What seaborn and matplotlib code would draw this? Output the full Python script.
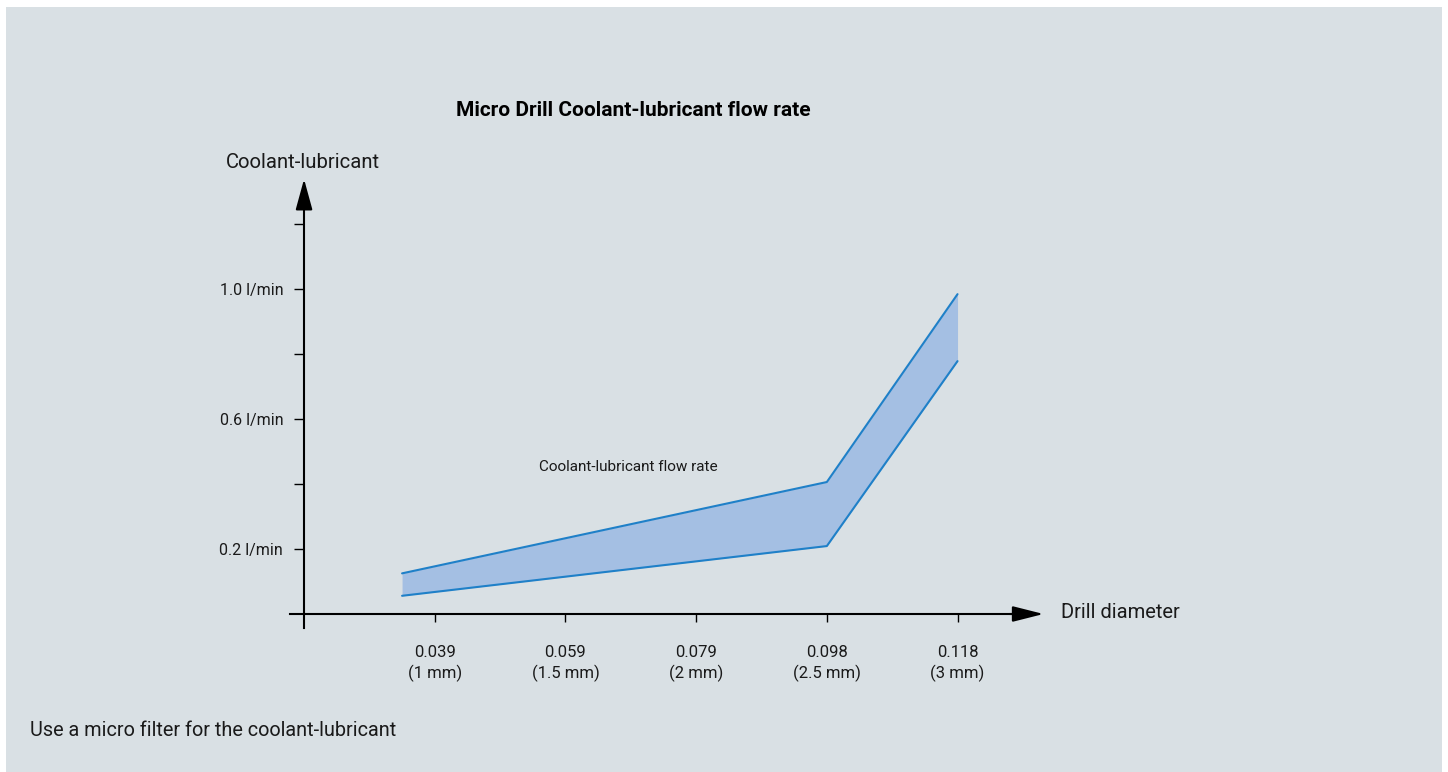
import matplotlib
matplotlib.use("Agg")
import matplotlib.pyplot as plt
import seaborn as sns
import pandas as pd

# ---- data ----
diam_mm = [0.875, 2.5, 3.0]
flow_upper = [0.125, 0.406, 0.984]
flow_lower = [0.056, 0.209, 0.778]
xtick_pos = [1.0, 1.5, 2.0, 2.5, 3.0]
xtick_labels = ["0.039\n(1 mm)", "0.059\n(1.5 mm)", "0.079\n(2 mm)", "0.098\n(2.5 mm)", "0.118\n(3 mm)"]
ytick_pos = [0.2, 0.4, 0.6, 0.8, 1.0, 1.2]
ytick_labels = ["0.2 l/min", "", "0.6 l/min", "", "1.0 l/min", ""]

sns.set_style("white")
plt.rcParams['font.family'] = ['Liberation Sans Narrow', 'Roboto', 'DejaVu Sans']

BG = "#d9e0e4"
LINE = "#1f80c8"
FILL = "#a4bfe3"

fig = plt.figure(figsize=(14.48, 7.72), dpi=100)
fig.patch.set_facecolor("white")
# grey panel
fig.patches.append(matplotlib.patches.Rectangle((6/1448, 0), 1436/1448, 765/772,
                   transform=fig.transFigure, facecolor=BG, edgecolor="none", zorder=-10))

ax = fig.add_axes([280/1448, 132/772, 780/1448, 470/772])
ax.set_zorder(5)
ax.set_facecolor("none")
ax.set_xlim(0.408, 3.392)
ax.set_ylim(-0.08, 1.366)

df = pd.DataFrame({"d": diam_mm + diam_mm,
                   "flow": flow_upper + flow_lower,
                   "bound": ["upper"] * 3 + ["lower"] * 3})
ax.fill_between(diam_mm, flow_lower, flow_upper, color=FILL, linewidth=0, zorder=1)
sns.lineplot(data=df, x="d", y="flow", hue="bound", palette=[LINE, LINE],
             linewidth=1.5, legend=False, ax=ax, zorder=2, sort=False)
ax.set_xlabel("")
ax.set_ylabel("")

# axes as spines through the origin
for s in ["top", "right"]:
    ax.spines[s].set_visible(False)
ax.spines["left"].set_position(("data", 0.5))
ax.spines["bottom"].set_position(("data", 0.0))
ax.spines["left"].set_bounds(-0.043, 1.30)
ax.spines["bottom"].set_bounds(0.4464, 3.25)
for s in ["left", "bottom"]:
    ax.spines[s].set_linewidth(1.5)
    ax.spines[s].set_color("black")

# arrowheads
ax.annotate("", xy=(3.329, 0), xytext=(3.2, 0), xycoords="data",
            arrowprops=dict(arrowstyle="-|>,head_length=0.95,head_width=0.24",
                            mutation_scale=20, color="black", lw=1.5, shrinkA=0, shrinkB=0),
            annotation_clip=False)
ax.annotate("", xy=(0.5, 1.338), xytext=(0.5, 1.25), xycoords="data",
            arrowprops=dict(arrowstyle="-|>,head_length=0.95,head_width=0.26",
                            mutation_scale=20, color="black", lw=1.5, shrinkA=0, shrinkB=0),
            annotation_clip=False)

ax.set_xticks(xtick_pos)
ax.set_xticklabels(xtick_labels, fontsize=12, color="#1a1a1a", linespacing=1.4)
ax.set_yticks(ytick_pos)
ax.set_yticklabels(ytick_labels, fontsize=11.5, color="#1a1a1a")
ax.tick_params(axis="x", which="major", bottom=True, direction="out", length=6, width=1,
               color="black", pad=16)
ax.tick_params(axis="y", which="major", left=True, direction="out", length=7, width=1,
               color="black", pad=8)

# texts
fig.text(633/1448, 1 - 111/772, "Micro Drill Coolant-lubricant flow rate", ha="center", va="center",
         fontsize=15, fontweight="bold", color="black")
fig.text(226/1448, 1 - 163/772, "Coolant-lubricant", ha="left", va="center", fontsize=14.6, color="#1a1a1a")
fig.text(1061/1448, 1 - 613/772, "Drill diameter", ha="left", va="center", fontsize=14.5, color="#1a1a1a")
fig.text(539/1448, 1 - 467/772, "Coolant-lubricant flow rate", ha="left", va="center", fontsize=11, color="#1a1a1a")
fig.text(30/1448, 1 - 731/772, "Use a micro filter for the coolant-lubricant", ha="left", va="center",
         fontsize=14.3, color="#1a1a1a")

fig.savefig("out.png", dpi=100, facecolor=fig.get_facecolor())
